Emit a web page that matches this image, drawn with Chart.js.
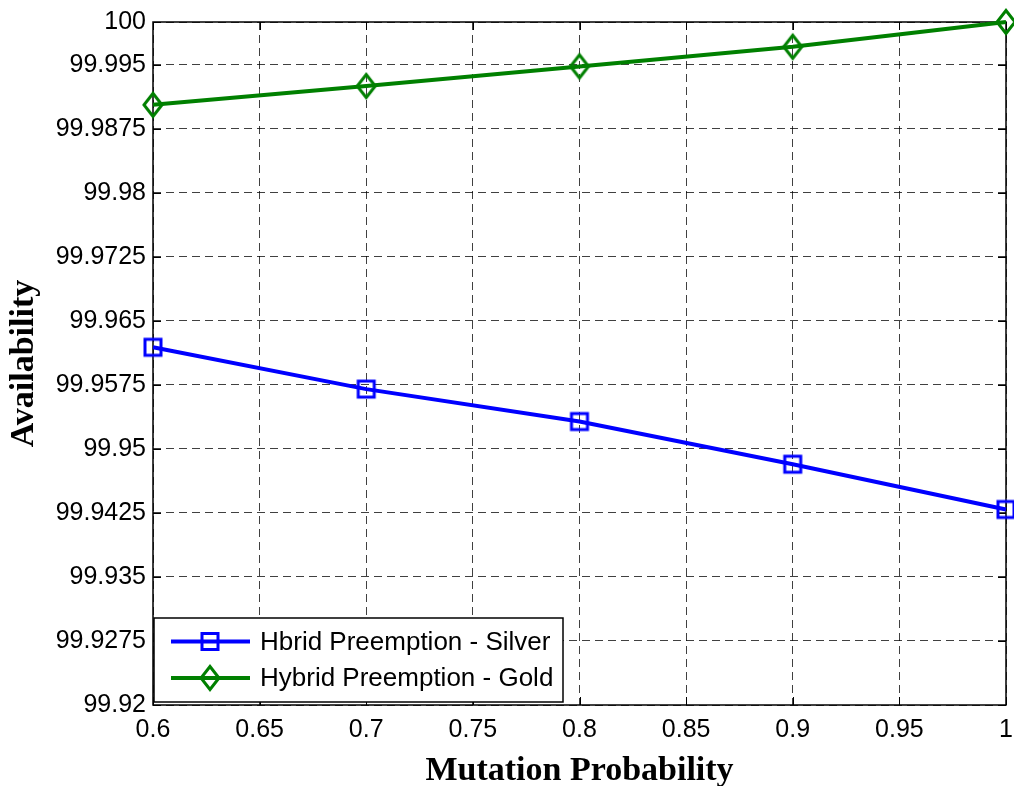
<!DOCTYPE html>
<html>
<head>
<meta charset="utf-8">
<title>Availability vs Mutation Probability</title>
<script src="https://cdn.jsdelivr.net/npm/chart.js@4/dist/chart.umd.min.js"></script>
<style>
  html, body { margin: 0; padding: 0; background: #fff; }
  canvas { display: block; }
</style>
</head>
<body>
<canvas id="chart" width="1014" height="786"></canvas>
<script>
// mutation probability on the x axis
const mutationProb = [0.6, 0.7, 0.8, 0.9, 1.0];

// availability (%) per scheme
const silverAvail = [99.9619, 99.9570, 99.9532, 99.9482, 99.9429];
const goldAvail = [99.9903, 99.9925, 99.9948, 99.9971, 100.0];

const seriesNames = ['Hbrid Preemption - Silver', 'Hybrid Preemption - Gold'];

// tick positions
const xTicks = [0.6, 0.65, 0.7, 0.75, 0.8, 0.85, 0.9, 0.95, 1.0];
const yTicks = [99.92, 99.9275, 99.935, 99.9425, 99.95, 99.9575, 99.965,
                99.9725, 99.98, 99.9875, 99.995, 100];

const SANS = '"Liberation Sans", Arial, Helvetica, sans-serif';
const SERIF = '"Liberation Serif", "Times New Roman", serif';
const fmt = v => String(+(+v).toFixed(4));
const noPadding = () => ({ left: 0, right: 0, top: 0, bottom: 0 });

// box around the axes plus small inward ticks on all four sides
const axesBox = {
  id: 'axesBox',
  beforeDatasetsDraw(chart) {
    const { ctx, chartArea: a, scales } = chart;
    ctx.save();
    ctx.strokeStyle = '#000';
    ctx.lineWidth = 1;
    ctx.beginPath();
    xTicks.forEach(v => {
      const px = Math.round(scales.x.getPixelForValue(v)) + 0.5;
      ctx.moveTo(px, a.bottom); ctx.lineTo(px, a.bottom - 8);
      ctx.moveTo(px, a.top); ctx.lineTo(px, a.top + 8);
    });
    yTicks.forEach(v => {
      const py = Math.round(scales.y.getPixelForValue(v)) + 0.5;
      ctx.moveTo(a.left, py); ctx.lineTo(a.left + 8, py);
      ctx.moveTo(a.right, py); ctx.lineTo(a.right - 8, py);
    });
    ctx.stroke();
    ctx.lineWidth = 1.5;
    ctx.strokeRect(a.left, a.top, a.right - a.left, a.bottom - a.top);
    ctx.restore();
  }
};

function drawMarker(ctx, shape, x, y) {
  ctx.beginPath();
  if (shape === 'square') {
    ctx.rect(x - 8, y - 8, 16, 16);
  } else {
    ctx.moveTo(x, y - 11.5);
    ctx.lineTo(x + 9, y);
    ctx.lineTo(x, y + 11.5);
    ctx.lineTo(x - 9, y);
    ctx.closePath();
  }
  ctx.stroke();
}

function markerImage(shape, color) {
  const c = document.createElement('canvas');
  c.width = 26; c.height = 30;
  const g = c.getContext('2d');
  g.strokeStyle = color;
  g.lineWidth = 3;
  drawMarker(g, shape, 13, 15);
  return c;
}

// legend in the lower left corner of the plot
const cornerLegend = {
  id: 'cornerLegend',
  afterDatasetsDraw(chart) {
    const { ctx, chartArea: a } = chart;
    const left = a.left + 1, w = 409, h = 84;
    const top = a.bottom - h - 3;
    ctx.save();
    ctx.fillStyle = '#fff';
    ctx.fillRect(left, top, w, h);
    ctx.strokeStyle = '#000';
    ctx.lineWidth = 1.5;
    ctx.strokeRect(left, top, w, h);
    chart.data.datasets.forEach((ds, i) => {
      const y = top + 23.5 + i * 36.5;
      ctx.strokeStyle = ds.borderColor;
      ctx.lineWidth = ds.borderWidth;
      ctx.beginPath();
      ctx.moveTo(left + 17, y);
      ctx.lineTo(left + 96, y);
      ctx.stroke();
      ctx.lineWidth = 3;
      drawMarker(ctx, ds.markerShape, left + 56, y);
      ctx.fillStyle = '#000';
      ctx.font = '26px ' + SANS;
      ctx.textBaseline = 'middle';
      ctx.textAlign = 'left';
      ctx.fillText(ds.label, left + 106, y + 1);
    });
    ctx.restore();
  }
};

const gridStyle = { color: 'rgba(0,0,0,0.75)', lineWidth: 1, drawTicks: false };

new Chart(document.getElementById('chart'), {
  type: 'line',
  data: {
    datasets: [
      {
        label: seriesNames[0],
        data: mutationProb.map((x, i) => ({ x, y: silverAvail[i] })),
        borderColor: '#0000ff',
        borderWidth: 4,
        markerShape: 'square',
        pointStyle: markerImage('square', '#0000ff'),
        tension: 0,
        clip: false
      },
      {
        label: seriesNames[1],
        data: mutationProb.map((x, i) => ({ x, y: goldAvail[i] })),
        borderColor: '#008000',
        borderWidth: 4,
        markerShape: 'diamond',
        pointStyle: markerImage('diamond', '#008000'),
        tension: 0,
        clip: false
      }
    ]
  },
  options: {
    responsive: false,
    animation: false,
    devicePixelRatio: 1,
    layout: { padding: { top: 22, right: 6, left: 0, bottom: 0 } },
    plugins: { legend: { display: false }, tooltip: { enabled: false } },
    scales: {
      x: {
        type: 'linear',
        min: 0.6,
        max: 1,
        afterBuildTicks: s => { s.ticks = xTicks.map(v => ({ value: v })); },
        afterFit: s => {
          s.height = 81;
          s.paddingLeft = 0; s.paddingRight = 0;
          s.getPadding = noPadding;
        },
        grid: gridStyle,
        border: { display: false, dash: [8, 5] },
        ticks: {
          color: '#000',
          font: { family: SANS, size: 25 },
          padding: 10,
          maxRotation: 0,
          autoSkip: false,
          callback: v => fmt(v)
        },
        title: {
          display: true,
          text: 'Mutation Probability',
          color: '#000',
          font: { family: SERIF, size: 34, weight: 'bold', lineHeight: 1 },
          padding: { top: 0, bottom: -2 }
        }
      },
      y: {
        type: 'linear',
        min: 99.92,
        max: 100,
        afterBuildTicks: s => { s.ticks = yTicks.map(v => ({ value: v })); },
        afterFit: s => {
          s.width = 153;
          s.paddingTop = 0; s.paddingBottom = 0;
          s.getPadding = noPadding;
        },
        grid: gridStyle,
        border: { display: false, dash: [8, 5] },
        ticks: {
          color: '#000',
          font: { family: SANS, size: 25 },
          padding: 7,
          autoSkip: false,
          callback: v => fmt(v)
        },
        title: {
          display: true,
          text: 'Availability',
          color: '#000',
          font: { family: SERIF, size: 34, weight: 'bold', lineHeight: 1 },
          padding: { top: 7, bottom: 0 }
        }
      }
    }
  },
  plugins: [axesBox, cornerLegend]
});
</script>
</body>
</html>
